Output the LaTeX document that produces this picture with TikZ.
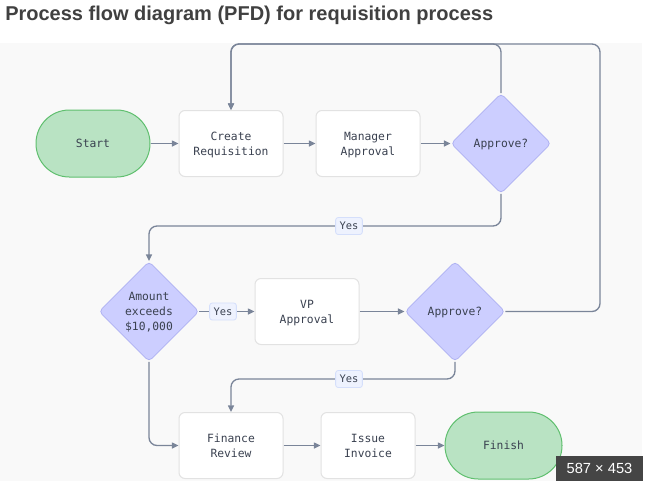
\documentclass[tikz,border=0pt]{standalone}
\usepackage{fontspec}
\setmainfont{Liberation Sans}
\newfontfamily\monofnt{DejaVu Sans Mono}
\usetikzlibrary{shapes.geometric,arrows.meta}
\definecolor{panelbg}{HTML}{F9F9F9}
\definecolor{conncol}{HTML}{7A8599}
\definecolor{boxborder}{HTML}{E2E2E2}
\definecolor{diafill}{HTML}{CCCEFF}
\definecolor{diaborder}{HTML}{AEB1F2}
\definecolor{termfill}{HTML}{B9E3C3}
\definecolor{termborder}{HTML}{5FBF6E}
\definecolor{txtcol}{HTML}{3A4150}
\definecolor{lblfill}{HTML}{EEF2FE}
\definecolor{lblborder}{HTML}{D5DFFB}
\definecolor{titlecol}{HTML}{404040}
\definecolor{badgecol}{HTML}{454545}
\tikzset{
  every node/.style={font=\monofnt\fontsize{8.5pt}{11.25pt}\selectfont, text=txtcol, align=center},
  procbox/.style={draw=boxborder, fill=white, line width=0.75pt, rounded corners=4.5pt,
    minimum width=78pt, minimum height=49.5pt, inner sep=0pt, text depth=0pt},
  term/.style={draw=termborder, fill=termfill, line width=0.75pt, rounded corners=25pt,
    minimum height=50.25pt, inner sep=0pt},
  decision/.style={diamond, draw=diaborder, fill=diafill, line width=0.6pt, rounded corners=3pt,
    minimum width=75pt, minimum height=75pt, inner sep=0pt, aspect=1, text depth=0pt},
  conn/.style={draw=conncol, line width=1pt, rounded corners=6pt,
    -{Triangle[length=5pt,width=4.5pt]}},
  yeslbl/.style={draw=lblborder, fill=lblfill, line width=0.6pt, rounded corners=2pt,
    font=\monofnt\fontsize{7.8pt}{9pt}\selectfont, inner xsep=3pt, inner ysep=3.5pt},
}
\begin{document}
\begin{tikzpicture}[x=0.75pt, y=-0.75pt]
\useasboundingbox (0,0) rectangle (654,490);
\fill[white] (0,0) rectangle (654,490);
\fill[panelbg] (0,43) rectangle (642,481);
\node[anchor=base west, font=\bfseries\fontsize{15pt}{18pt}\selectfont, text=titlecol, inner sep=0pt]
  (title) at (5,20.5) {Process flow diagram (PFD) for requisition process};

% nodes
\node[term, minimum width=85.5pt] (start) at (93,143.5) {Start};
\node[procbox] (create) at (231,143.5) {Create\\Requisition};
\node[procbox] (mgr) at (368,143.5) {Manager\\Approval};
\node[decision] (d1) at (501,143.5) {Approve?};
\node[decision] (d3) at (149,311.5) {Amount\\exceeds\\\$10,000};
\node[procbox] (vp) at (307,311.5) {VP\\Approval};
\node[decision] (d2) at (455,311.5) {Approve?};
\node[procbox] (fr) at (231,445.5) {Finance\\Review};
\node[procbox, minimum width=70.5pt] (inv) at (368,445.5) {Issue\\Invoice};
\node[term, minimum width=87.75pt] (finish) at (503.5,445.5) {Finish};

\coordinate (topy) at (0,44);
\coordinate (rt) at (600,44);
\coordinate (y1) at (0,226);
\coordinate (y2) at (0,379);

% connectors
\draw[conn] (start) -- (create);
\draw[conn] (create) -- (mgr);
\draw[conn] (mgr) -- (d1);
\draw[conn] (d1.north) |- (create.north |- topy) -- (create.north);
\draw[conn] (d2.east) -| (rt) -- (create.north |- topy) -- (create.north);
\draw[conn] (d1.south) |- (d3.north |- y1) -- (d3.north);
\draw[conn] (d3.east) -- (vp.west);
\draw[conn] (vp.east) -- (d2.west);
\draw[conn] (d2.south) |- (fr.north |- y2) -- (fr.north);
\draw[conn] (d3.south) |- (fr.west);
\draw[conn] (fr) -- (inv);
\draw[conn] (inv) -- (finish);

% labels
\node[yeslbl] (yes1) at (349,226) {Yes};
\node[yeslbl] (yes2) at (223,311.5) {Yes};
\node[yeslbl] (yes3) at (349,379) {Yes};

% badge
\fill[badgecol] (556,456) rectangle (643,481);
\node[font=\fontsize{11pt}{13pt}\selectfont, text=white, inner sep=0pt] (badge) at (599.5,468.5) {587 × 453};
\end{tikzpicture}
\end{document}
